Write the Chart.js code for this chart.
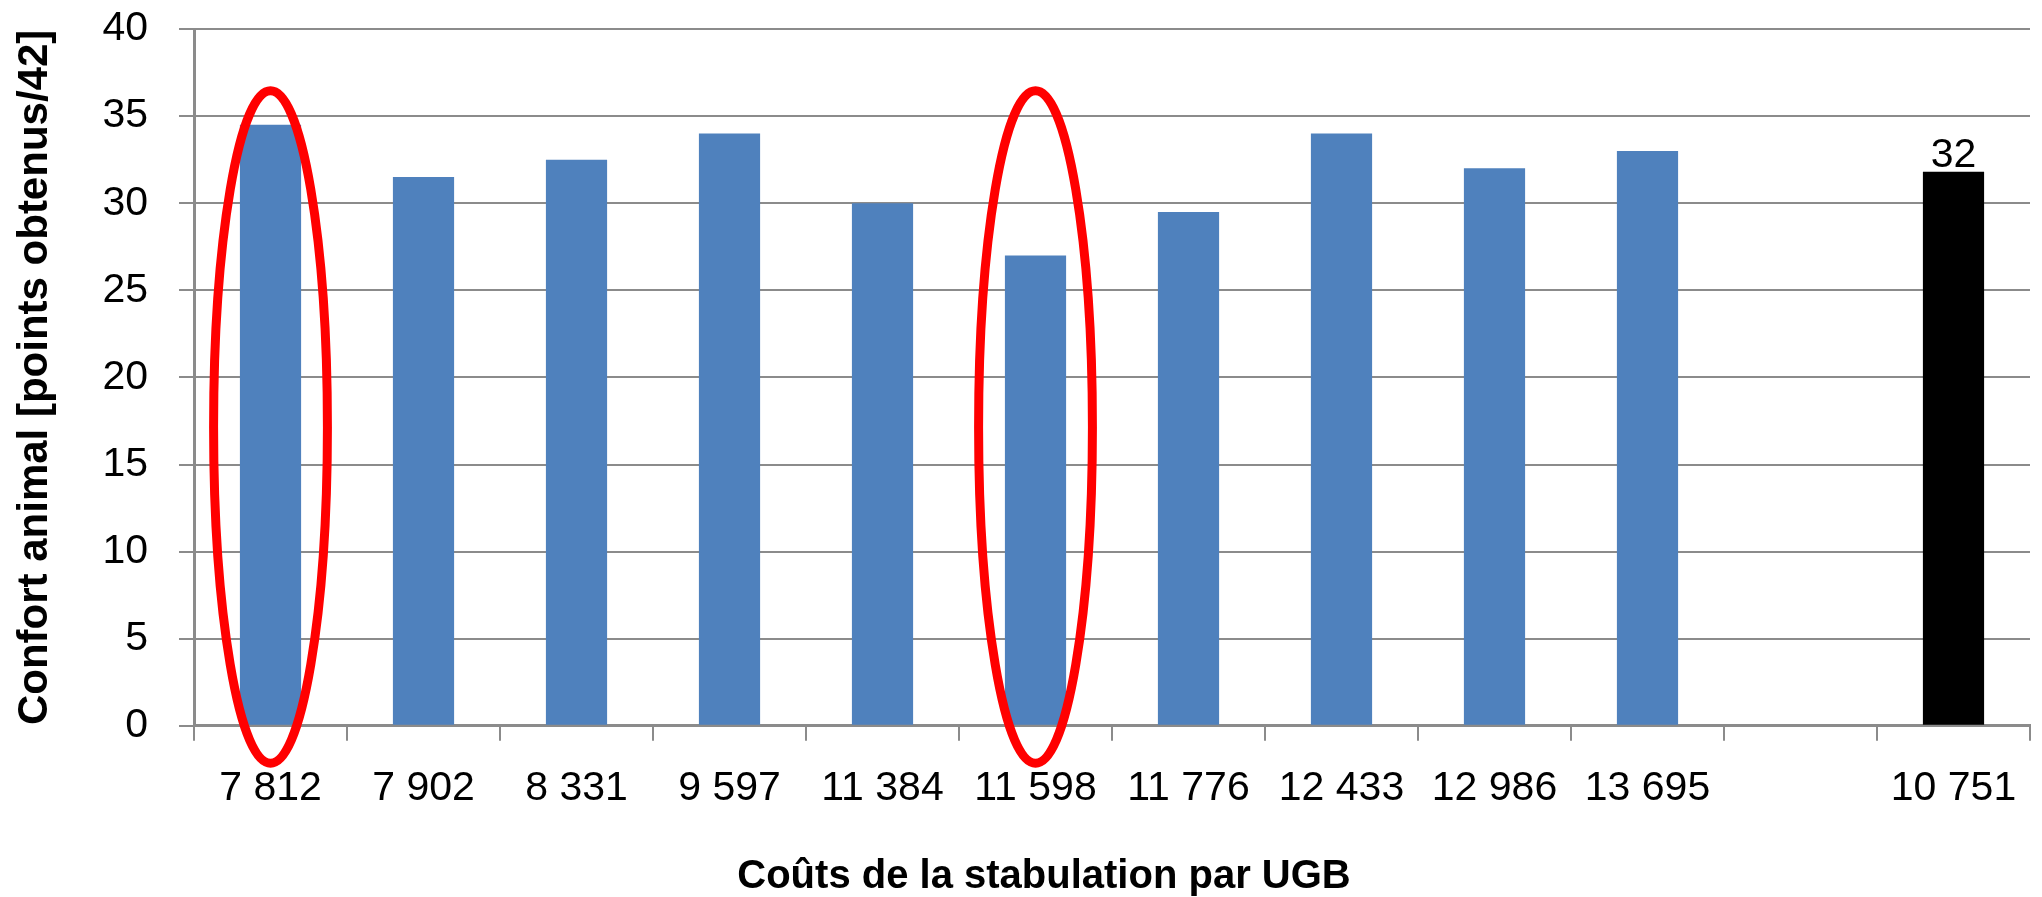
<!DOCTYPE html>
<html>
<head>
<meta charset="utf-8">
<title>Confort animal</title>
<script src="https://cdn.jsdelivr.net/npm/chart.js@4.4.1/dist/chart.umd.min.js"></script>
<style>
    html, body { margin: 0; padding: 0; background: #fff; }
    #wrap { width: 2042px; height: 897px; }
</style>
</head>
<body>
<div id="wrap"><canvas id="confortChart"></canvas></div>
<script>
// Data
const costLabels = ['7 812', '7 902', '8 331', '9 597', '11 384', '11 598', '11 776', '12 433', '12 986', '13 695', '', '10 751'];
const confortValues = [34.5, 31.5, 32.5, 34, 30, 27, 29.5, 34, 32, 33, null, 31.8];
const circledIndexes = [0, 5];
const averageIndex = 11;

const FONT = "'Liberation Sans', Arial, sans-serif";
const GRID = '#8b8b8b';

// Red ellipses drawn around the highlighted bars
const ellipsePlugin = {
    id: 'ellipses',
    afterDatasetsDraw(chart, args, opts) {
        const x = chart.scales.x;
        const y = chart.scales.y;
        const ctx = chart.ctx;
        const catWidth = x.getPixelForValue(1) - x.getPixelForValue(0);
        const yTop = y.getPixelForValue(opts.top);
        const yBottom = y.getPixelForValue(opts.bottom);
        ctx.save();
        ctx.strokeStyle = opts.color;
        ctx.lineWidth = opts.lineWidth;
        circledIndexes.forEach(i => {
            ctx.beginPath();
            ctx.ellipse(x.getPixelForValue(i), (yTop + yBottom) / 2, catWidth * opts.rx, (yBottom - yTop) / 2, 0, 0, Math.PI * 2);
            ctx.stroke();
        });
        ctx.restore();
    }
};

// Value label on top of the average bar
const valueLabelPlugin = {
    id: 'valueLabel',
    afterDatasetsDraw(chart) {
        const bar = chart.getDatasetMeta(0).data[averageIndex];
        const ctx = chart.ctx;
        ctx.save();
        ctx.fillStyle = '#000';
        ctx.font = '41px ' + FONT;
        ctx.textAlign = 'center';
        ctx.textBaseline = 'alphabetic';
        ctx.fillText(confortValues[averageIndex].toFixed(0), bar.x, bar.y - 5);
        ctx.restore();
    }
};

// X axis title, placed a little left of the plot centre as in the original
const xTitlePlugin = {
    id: 'xTitle',
    afterDraw(chart, args, opts) {
        const ctx = chart.ctx;
        ctx.save();
        ctx.fillStyle = '#000';
        ctx.font = 'bold 40px ' + FONT;
        ctx.textAlign = 'center';
        ctx.textBaseline = 'alphabetic';
        ctx.fillText(opts.text, opts.x, opts.y);
        ctx.restore();
    }
};

const ctx = document.getElementById('confortChart').getContext('2d');
new Chart(ctx, {
    type: 'bar',
    data: {
        labels: costLabels,
        datasets: [{
            data: confortValues,
            backgroundColor: c => c.dataIndex === averageIndex ? '#000000' : '#4f81bd',
            borderWidth: 0,
            barPercentage: 0.4,
            categoryPercentage: 1.0
        }]
    },
    options: {
        responsive: true,
        maintainAspectRatio: false,
        animation: false,
        layout: {
            padding: { top: 0, right: 12, bottom: 61, left: 0 }
        },
        plugins: {
            legend: { display: false },
            tooltip: { enabled: false },
            ellipses: { top: 36.45, bottom: -2.15, rx: 0.372, color: '#ff0000', lineWidth: 9 },
            xTitle: { text: 'Coûts de la stabulation par UGB', x: 1044, y: 888 }
        },
        scales: {
            x: {
                grid: {
                    display: true,
                    drawOnChartArea: false,
                    drawTicks: true,
                    tickLength: 15,
                    offset: true,
                    color: GRID,
                    lineWidth: 2
                },
                border: { display: true, color: GRID, width: 3 },
                ticks: {
                    color: '#000',
                    font: { family: FONT, size: 41 },
                    padding: 23,
                    maxRotation: 0,
                    autoSkip: false
                }
            },
            y: {
                min: 0,
                max: 40,
                // the wide tick padding should not push the plot down
                afterFit: scale => {
                    scale.paddingTop = 29;
                    scale.paddingBottom = 0;
                },
                grid: {
                    color: GRID,
                    lineWidth: 2,
                    tickLength: 15
                },
                border: { display: true, color: GRID, width: 3 },
                ticks: {
                    stepSize: 5,
                    color: '#000',
                    font: { family: FONT, size: 41 },
                    padding: 31
                },
                title: {
                    display: true,
                    text: 'Confort animal [points obtenus/42]',
                    color: '#000',
                    font: { family: FONT, size: 42, weight: 'bold' },
                    padding: { top: 10, bottom: 11 }
                }
            }
        }
    },
    plugins: [ellipsePlugin, valueLabelPlugin, xTitlePlugin]
});
</script>
</body>
</html>
